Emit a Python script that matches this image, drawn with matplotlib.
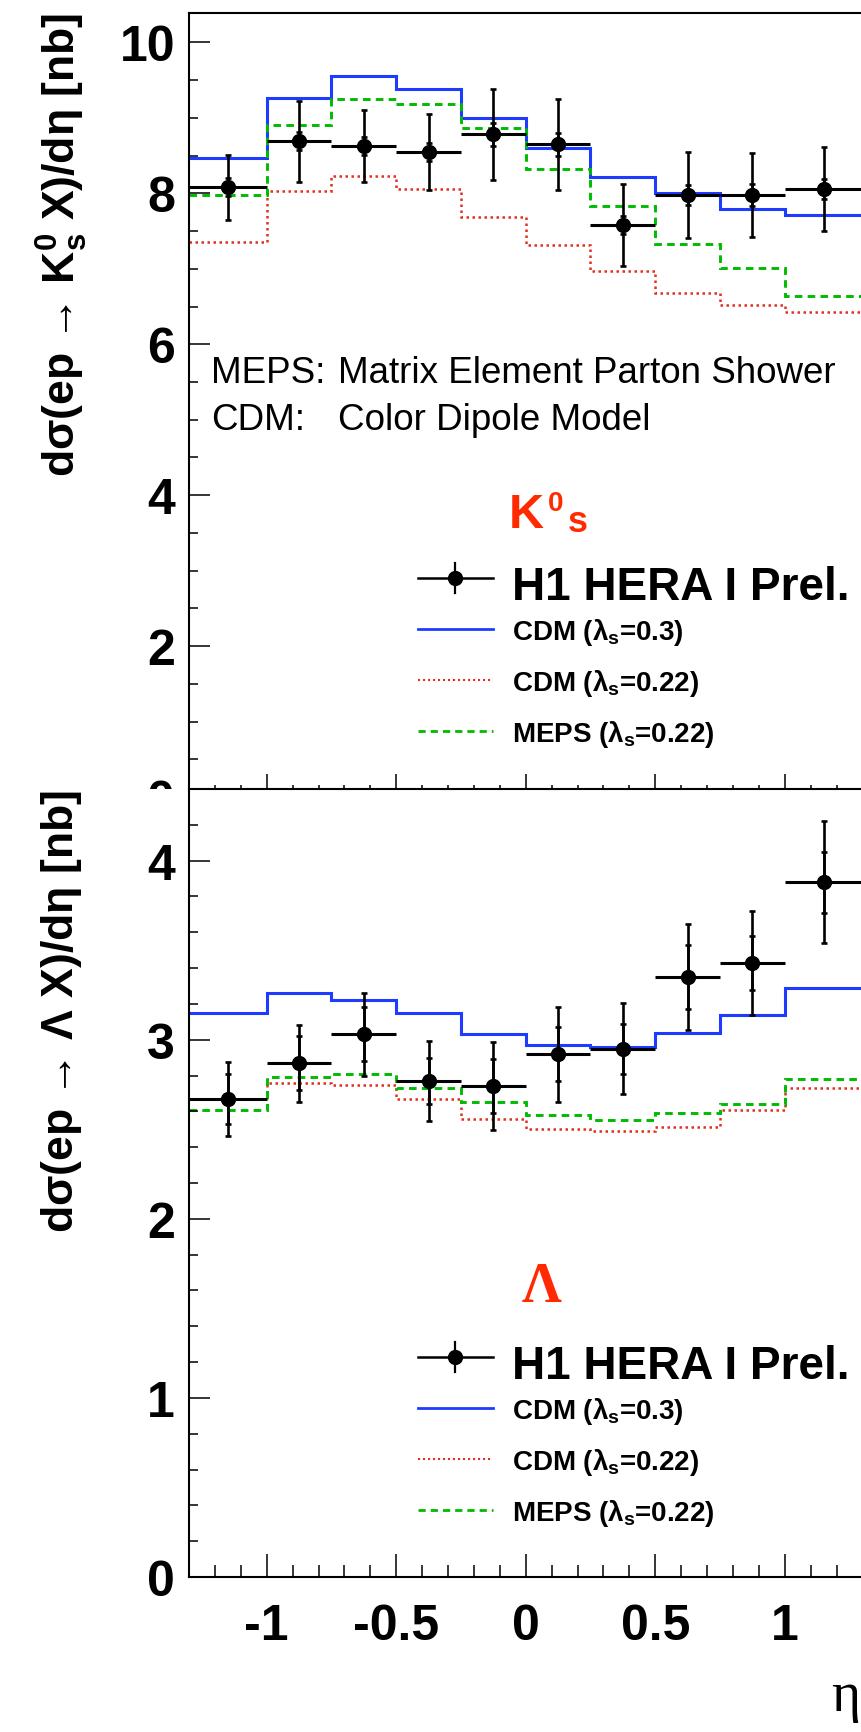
import numpy as np
import matplotlib.pyplot as plt
from matplotlib.patches import Rectangle
from matplotlib.lines import Line2D
from matplotlib.ticker import MultipleLocator, FormatStrFormatter

plt.rcParams['font.family'] = ['Liberation Sans', 'DejaVu Sans']
plt.rcParams['font.weight'] = 'bold'
plt.rcParams['axes.unicode_minus'] = False
plt.rcParams['mathtext.fontset'] = 'custom'
plt.rcParams['mathtext.rm'] = 'Liberation Sans:bold'
plt.rcParams['mathtext.bf'] = 'Liberation Sans:bold'
plt.rcParams['mathtext.it'] = 'Liberation Sans'
plt.rcParams['mathtext.sf'] = 'Liberation Sans'

# bins in eta
edges = [-1.3, -1.0, -0.75, -0.5, -0.25, 0.0, 0.25, 0.5, 0.75, 1.0, 1.3]
eta = [-1.15, -0.875, -0.625, -0.375, -0.125, 0.125, 0.375, 0.625, 0.875, 1.15]

# K0s cross sections [nb]
k0_data = [8.08, 8.69, 8.63, 8.55, 8.78, 8.65, 7.58, 7.98, 7.98, 8.06]
k0_stat = [0.12, 0.12, 0.12, 0.12, 0.15, 0.15, 0.12, 0.13, 0.15, 0.13]
k0_tot = [0.43, 0.535, 0.48, 0.50, 0.60, 0.60, 0.54, 0.57, 0.56, 0.56]
k0_cdm03 = [8.47, 9.27, 9.55, 9.38, 9.00, 8.60, 8.21, 8.00, 7.79, 7.71]
k0_cdm022 = [7.35, 8.03, 8.23, 8.06, 7.68, 7.31, 6.97, 6.68, 6.52, 6.43]
k0_meps = [7.98, 8.90, 9.25, 9.18, 8.86, 8.32, 7.83, 7.33, 7.01, 6.64]

# Lambda cross sections [nb]
lam_data = [2.67, 2.87, 3.03, 2.77, 2.74, 2.92, 2.95, 3.35, 3.43, 3.88]
lam_stat = [0.14, 0.15, 0.15, 0.13, 0.15, 0.15, 0.14, 0.18, 0.15, 0.17]
lam_tot = [0.205, 0.215, 0.23, 0.225, 0.245, 0.265, 0.255, 0.295, 0.29, 0.34]
lam_cdm03 = [3.15, 3.26, 3.22, 3.15, 3.03, 2.97, 2.96, 3.04, 3.14, 3.29]
lam_cdm022 = [2.67, 2.76, 2.75, 2.67, 2.56, 2.50, 2.49, 2.51, 2.61, 2.73]
lam_meps = [2.61, 2.79, 2.81, 2.73, 2.65, 2.58, 2.55, 2.59, 2.64, 2.78]

W, H = 861, 1733
BLUE = '#1e3cff'
RED = '#e03020'
GREEN = '#00bb00'
ORANGE = '#ff2a00'

def fx(px):
    return px / W

def fy(py):
    return 1 - py / H

fig = plt.figure(figsize=(W / 100, H / 100), dpi=100)

x0, x1 = 189, 862.4
ax1 = fig.add_axes([fx(x0), fy(798), (x1 - x0) / W, 784 / H], zorder=0)
ax2 = fig.add_axes([fx(x0), fy(1578), (x1 - x0) / W, 788 / H], zorder=2)
# the lower pad hides the bottom edge of the upper one
fig.patches.append(Rectangle((0, 0), 1, fy(790), transform=fig.transFigure,
                             facecolor='white', edgecolor='none', zorder=1))

halfw = np.diff(edges) / 2

def draw_panel(ax, data, stat, tot, cdm03, cdm022, meps, ylim, ymaj, ymin):
    ax.stairs(cdm03, edges, color=BLUE, lw=2.2, baseline=None)
    ax.stairs(cdm022, edges, color=RED, lw=1.8, ls=(0, (1, 1.4)), baseline=None)
    ax.stairs(meps, edges, color=GREEN, lw=2.1, ls=(0, (2.6, 1.8)), baseline=None)
    ax.errorbar(eta, data, xerr=halfw, fmt='none', ecolor='k', elinewidth=2.2, capsize=0)
    ax.errorbar(eta, data, yerr=tot, fmt='o', color='k', ms=10, elinewidth=1.9,
                capsize=2.5, capthick=1.9)
    ax.errorbar(eta, data, yerr=stat, fmt='none', ecolor='k', elinewidth=1.9,
                capsize=2.5, capthick=1.9)
    ax.set_xlim(-1.3, 1.3)
    ax.set_ylim(*ylim)
    ax.xaxis.set_major_locator(MultipleLocator(0.5))
    ax.xaxis.set_minor_locator(MultipleLocator(0.1))
    ax.yaxis.set_major_locator(MultipleLocator(ymaj))
    ax.yaxis.set_minor_locator(MultipleLocator(ymin))
    ax.xaxis.set_major_formatter(FormatStrFormatter('%g'))
    ax.yaxis.set_major_formatter(FormatStrFormatter('%g'))
    ax.tick_params(which='both', direction='in', top=False, right=False, width=1.1,
                   labelsize=36)
    ax.tick_params(axis='x', which='major', length=16.5, pad=19)
    ax.tick_params(axis='x', which='minor', length=8.6)
    ax.tick_params(axis='y', which='major', length=15, pad=10)
    ax.tick_params(axis='y', which='minor', length=6.5)
    for s in ax.spines.values():
        s.set_linewidth(1.5)

draw_panel(ax1, k0_data, k0_stat, k0_tot, k0_cdm03, k0_cdm022, k0_meps,
           (0, 10.39), 2, 0.5)
draw_panel(ax2, lam_data, lam_stat, lam_tot, lam_cdm03, lam_cdm022, lam_meps,
           (0, 4.40), 1, 0.2)
ax1.tick_params(axis='x', labelbottom=False)

# axis titles
fig.text(fx(62), fy(13), 'd$\\sigma$(ep → $\\mathbf{K^{0}_{s}}$ X)/d$\\eta$ [nb]',
         rotation=90, ha='center', va='top', fontsize=32)
fig.text(fx(62), fy(790), 'd$\\sigma$(ep → $\\mathsf{\\Lambda}$ X)/d$\\eta$ [nb]',
         rotation=90, ha='center', va='top', fontsize=32)
fig.text(fx(846), fy(1711), 'η', ha='center', va='baseline', fontsize=40,
         family='Liberation Serif', weight='normal')

# model descriptions
fig.text(fx(211), fy(383), 'MEPS:', fontsize=26.5, weight='normal')
fig.text(fx(338), fy(383), 'Matrix Element Parton Shower', fontsize=26.5, weight='normal')
fig.text(fx(211), fy(430), 'CDM:', fontsize=26.5, weight='normal')
fig.text(fx(338), fy(430), 'Color Dipole Model', fontsize=26.5, weight='normal')

# particle labels
fig.text(fx(509), fy(528), 'K', fontsize=35, color=ORANGE)
fig.text(fx(548), fy(511), '0', fontsize=20, color=ORANGE)
fig.text(fx(568), fy(532), 's', fontsize=26, color=ORANGE)
fig.text(fx(522), fy(1302), 'Λ', fontsize=40, color=ORANGE,
         family='Liberation Serif')

# legends
labels = ['CDM ($\\lambda_{\\mathbf{s}}$=0.3)', 'CDM ($\\lambda_{\\mathbf{s}}$=0.22)',
          'MEPS ($\\lambda_{\\mathbf{s}}$=0.22)']
styles = [dict(color=BLUE, lw=2.0), dict(color=RED, lw=1.5, ls=(0, (1, 1.4))),
          dict(color=GREEN, lw=2.0, ls=(0, (2.6, 1.8)))]

def legend(y_h1, dy):
    lx0, lx1, lxm = 418, 493, 455
    fig.add_artist(Line2D([fx(lx0), fx(lx1)], [fy(y_h1), fy(y_h1)], color='k',
                          lw=1.8, zorder=5))
    fig.add_artist(Line2D([fx(lxm), fx(lxm)], [fy(y_h1 - 15), fy(y_h1 + 15)],
                          color='k', lw=1.6, zorder=5))
    fig.add_artist(Line2D([fx(lxm)], [fy(y_h1)], marker='o', ms=10, color='k', zorder=5))
    fig.text(fx(512), fy(y_h1 + 21), 'H1 HERA I Prel.', fontsize=33, zorder=5)
    for i, (lab, st) in enumerate(zip(labels, styles)):
        yy = y_h1 + dy * (i + 1)
        fig.add_artist(Line2D([fx(lx0), fx(lx1)], [fy(yy), fy(yy)], zorder=5, **st))
        fig.text(fx(512), fy(yy + 10), lab, fontsize=20, zorder=5)

legend(579, 51)
legend(1358, 51)

fig.savefig('out.png', dpi=100)
